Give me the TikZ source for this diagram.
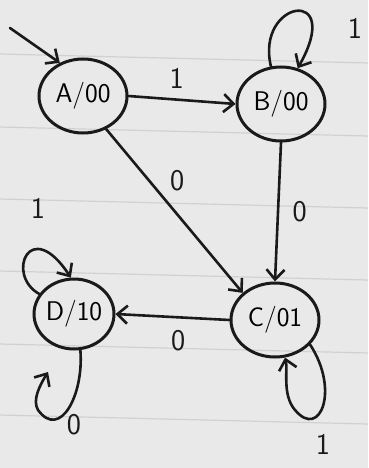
\documentclass[tikz,border=0pt]{standalone}
\usetikzlibrary{shapes.geometric,arrows.meta}
\begin{document}
\begin{tikzpicture}[x=1pt,y=-1pt,
  state/.style={ellipse,draw=ink,line width=3pt,minimum width=88pt,minimum height=74pt,inner sep=0pt,font=\sffamily\fontsize{27}{29}\selectfont},
  edge/.style={draw=ink,line width=2.6pt,line cap=round,-{Straight Barb[length=10pt,width=18pt,line width=2.6pt]}},
  lbl/.style={font=\sffamily\fontsize{30}{32}\selectfont,text=ink},
  paperline/.style={draw=black!18,line width=1.2pt}]
\definecolor{ink}{HTML}{1A1A1A}
\definecolor{paper}{HTML}{E9E9E9}
\fill[paper] (0,0) rectangle (368,468);
\useasboundingbox (0,0) rectangle (368,468);
% ruled lines of the paper
\foreach \y in {-18,54,127,199,271,344,415}
  \draw[paperline] (0,\y) -- (368,\y+9);
% states
\node[state] (A) at (83,96) {A/00};
\node[state] (B) at (281,104) {B/00};
\node[state] (C) at (275,320) {C/01};
\node[state,minimum width=80pt,minimum height=70pt] (D) at (74,314) {D/10};
% start arrow
\coordinate (s) at (10,28);
\draw[edge] (s) -- (A.125);
% transitions
\draw[edge] (A.east) -- (B.west) node[lbl,pos=0.45,above=6pt] {1};
\draw[edge] (B.south) -- (C.north) node[lbl,pos=0.5,right=10pt] {0};
\draw[edge] (A.-55) -- (C.140) node[lbl,pos=0.42,above right=2pt] {0};
\draw[edge] (C.west) -- (D.east) node[lbl,pos=0.45,below=8pt] {0};
% self loops
\draw[edge] (B.105) .. controls (255,0) and (345,-15) .. (B.65);
\node[lbl] (l1) at (355,28) {1};
\draw[edge] (C.-35) .. controls (340,390) and (320,440) .. (295,410) .. controls (282,395) and (288,370) .. (C.-75);
\node[lbl] (l2) at (323,444) {1};
\draw[edge] (D.150) .. controls (5,275) and (30,215) .. (D.95);
\node[lbl] (l3) at (38,208) {1};
\coordinate (dloop) at (48,372);
\draw[edge] (D.-80) .. controls (84,395) and (60,440) .. (38,410) .. controls (32,400) and (40,385) .. (dloop);
\node[lbl] (l4) at (74,425) {0};
\end{tikzpicture}
\end{document}
